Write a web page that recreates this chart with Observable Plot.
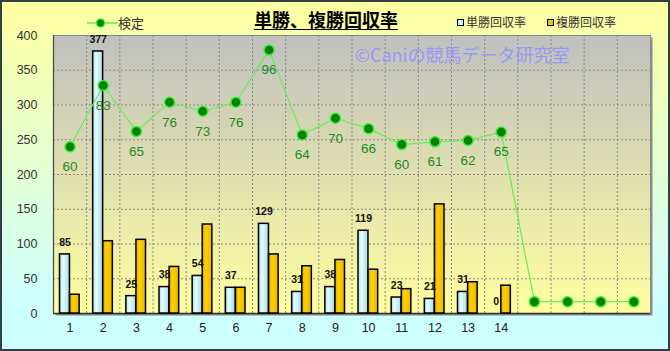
<!DOCTYPE html>
<html><head><meta charset="utf-8">
<script src="https://cdn.jsdelivr.net/npm/d3@7"></script>
<script src="https://cdn.jsdelivr.net/npm/@observablehq/plot@0.6"></script>
<style>
body{margin:0;}
#wrap{position:relative;width:670px;height:351px;background:linear-gradient(#ffffa0 0%, #ccffff 88%, #ccffff 100%);font-family:"Liberation Sans",Arial,sans-serif;overflow:hidden}
#chart{position:absolute;left:0;top:0}
#border{position:absolute;left:0;top:0;width:670px;height:351px;box-sizing:border-box;border:2px solid #2f3f44;pointer-events:none}
#title{position:absolute;left:254px;top:9px;font:bold 18px "Noto Sans CJK JP",sans-serif;line-height:20px;text-decoration:underline;text-underline-offset:2px;color:#000;white-space:nowrap}
.leg{position:absolute;font:13px "Noto Sans CJK JP",sans-serif;color:#333;line-height:16px;white-space:nowrap;display:flex;align-items:center}
.sq{display:inline-block;width:5px;height:5px;border:1.3px solid #000;margin-right:2px}
#wm{position:absolute;left:355px;top:43px;font:18px "Noto Sans CJK JP",sans-serif;color:#9898f4;line-height:22px;white-space:nowrap}
</style></head>
<body>
<div id="wrap">
<div id="chart"></div>
<div id="title">単勝、複勝回収率</div>
<div class="leg" id="leg1" style="left:87px;top:15px"><svg width="32" height="12"><line x1="0" y1="6" x2="31" y2="6" stroke="#66ee55" stroke-width="1.5"/><circle cx="13.5" cy="6" r="4" fill="#008000" stroke="#33ee33" stroke-width="1.3"/></svg><span style="margin-left:-1px">検定</span></div>
<div class="leg" style="left:457px;top:14px;font-size:12px"><span class="sq" style="background:#c8f4fc"></span>単勝回収率</div>
<div class="leg" style="left:547px;top:14px;font-size:12px"><span class="sq" style="background:#f4c400"></span>複勝回収率</div>
<div id="wm">©Caniの競馬データ研究室</div>
<div id="border"></div>
</div>
<script>
const categories = [1,2,3,4,5,6,7,8,9,10,11,12,13,14,15,16,17,18];
const xTickLabels = [1,2,3,4,5,6,7,8,9,10,11,12,13,14];
const tansho = [85,377,25,38,54,37,129,31,38,119,23,21,31,0];
const fukusho = [27,104,106,67,128,37,85,68,77,63,35,157,45,40];
const kentei = [240,328,262,304,291,304,379,257,281,266,243,247,249,261,17,17,17,17];
const kenteiLabels = [60,83,65,76,73,76,96,64,70,66,60,61,62,65];
const yTicks = [0,50,100,150,200,250,300,350,400];

const rows = categories.map((c,i)=>({c, k: kentei[i], kl: kenteiLabels[i]}));
const barRows = xTickLabels.map((c,i)=>({c, tan: tansho[i], fuku: fukusho[i]}));
const labelRows = rows.filter(d=>d.kl!==undefined);
const boundaries = categories.slice(1).map(c=>c-0.5);

const plot = Plot.plot({
  width:670, height:351,
  marginLeft:53, marginRight:20, marginTop:35, marginBottom:38,
  style:{background:"transparent", fontFamily:"Liberation Sans, Arial, sans-serif"},
  x:{type:"linear", domain:[0.5,18.5]},
  y:{domain:[0,400]},
  marks:[
    Plot.frame({fill:"#8c8c8c", dx:2, dy:2}),
    Plot.frame({fill:"url(#plotbg)", stroke:"#888"}),
    Plot.gridY(yTicks.slice(1,-1), {stroke:"#858585", strokeOpacity:1, strokeDasharray:"2,2"}),
    Plot.ruleX(boundaries, {stroke:"#858585", strokeDasharray:"2,2"}),
    Plot.ruleY([0], {stroke:"#333", strokeWidth:1.5}),
    Plot.ruleX([0.5], {stroke:"#444", strokeWidth:1.2}),
    Plot.axisY({ticks:yTicks, tickSize:0, tickPadding:16, fontSize:12.5, fill:"#333", label:null}),
    Plot.axisX({ticks:xTickLabels, tickSize:0, tickPadding:10, fontSize:12.5, fill:"#222", label:null}),
    Plot.rectY(barRows, {x1:d=>d.c-0.5, x2:d=>d.c+0.5, y:"tan", insetLeft:6.5, insetRight:16.7, fill:"url(#gblue)", stroke:"#000", strokeWidth:1.5}),
    Plot.rectY(barRows, {x1:d=>d.c-0.5, x2:d=>d.c+0.5, y:"fuku", insetLeft:16.6, insetRight:7, fill:"url(#ggold)", stroke:"#000", strokeWidth:1.5}),
    Plot.text(barRows, {x:d=>d.c-0.5, y:"tan", text:"tan", dx:11.5, dy:-12, fontSize:10.5, fontWeight:"bold", fill:"#111"}),
    Plot.line(rows, {x:"c", y:"k", stroke:"#66ee55", strokeWidth:1.2}),
    Plot.dot(rows, {x:"c", y:"k", r:5, fill:"#008000", stroke:"#33ee33", strokeWidth:1.5}),
    Plot.text(labelRows, {x:"c", y:"k", text:"kl", dy:20, fontSize:13.5, fill:"#238a23"})
  ]
});
const svg = d3.select(plot);
const defs = svg.insert("defs", ":first-child");
const pb = defs.append("linearGradient").attr("id","plotbg").attr("x1",0).attr("y1",0).attr("x2",0).attr("y2",1);
pb.append("stop").attr("offset","0%").attr("stop-color","#c0c0c0");
pb.append("stop").attr("offset","100%").attr("stop-color","#ffffa0");
const gb = defs.append("linearGradient").attr("id","gblue").attr("x1",0).attr("y1",0).attr("x2",1).attr("y2",0);
gb.append("stop").attr("offset","0%").attr("stop-color","#a8dce8");
gb.append("stop").attr("offset","35%").attr("stop-color","#e4ffff");
gb.append("stop").attr("offset","100%").attr("stop-color","#a8d8e4");
const gg = defs.append("linearGradient").attr("id","ggold").attr("x1",0).attr("y1",0).attr("x2",1).attr("y2",0);
gg.append("stop").attr("offset","0%").attr("stop-color","#d8a800");
gg.append("stop").attr("offset","35%").attr("stop-color","#ffd000");
gg.append("stop").attr("offset","100%").attr("stop-color","#e8b800");
document.getElementById("chart").appendChild(plot);
</script>
</body></html>
